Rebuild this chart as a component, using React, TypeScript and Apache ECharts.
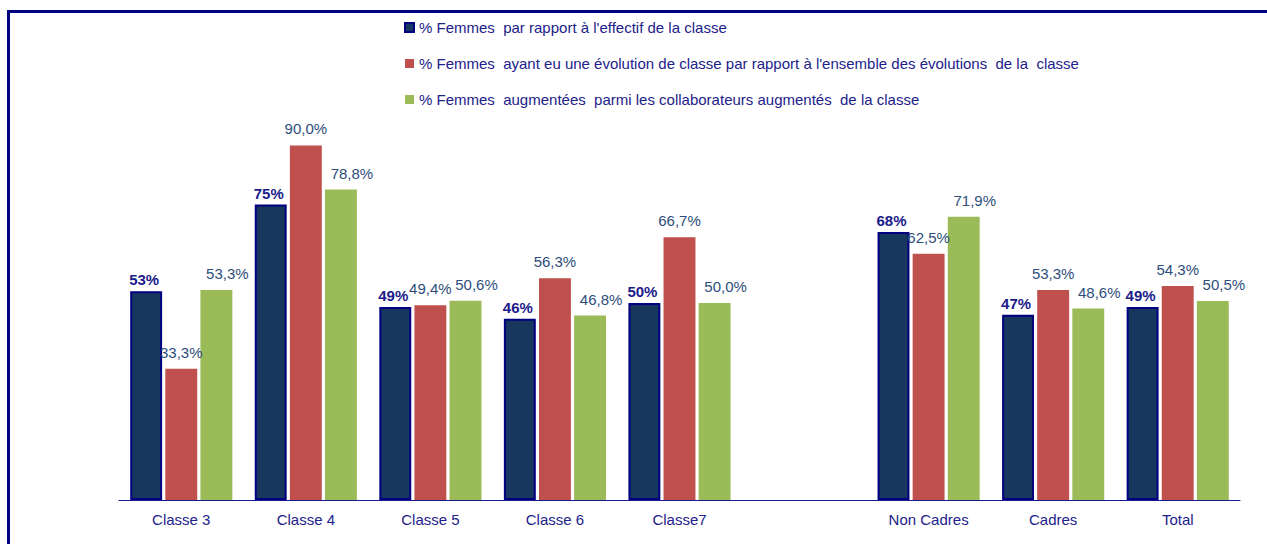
import React, { useEffect, useRef } from "react";
import * as echarts from "echarts";

const categories = ["Classe 3", "Classe 4", "Classe 5", "Classe 6", "Classe7", "", "Non Cadres", "Cadres", "Total"];
const seriesNames = [
  "% Femmes  par rapport à l'effectif de la classe",
  "% Femmes  ayant eu une évolution de classe par rapport à l'ensemble des évolutions  de la  classe",
  "% Femmes  augmentées  parmi les collaborateurs augmentés  de la classe",
];
const effectif = [53, 75, 49, 46, 50, null, 68, 47, 49];
const evolution = [33.3, 90.0, 49.4, 56.3, 66.7, null, 62.5, 53.3, 54.3];
const augmentees = [53.3, 78.8, 50.6, 46.8, 50.0, null, 71.9, 48.6, 50.5];

const FONT = "'Liberation Sans', Arial, sans-serif";

export default function App() {
  const ref = useRef<HTMLDivElement>(null);
  useEffect(() => {
    if (!ref.current) return;
    const chart = echarts.init(ref.current, null, { renderer: "svg" });
    const pct1 = (p: any) => (p.value == null ? "" : p.value.toFixed(1).replace(".", ",") + "%");
    const labelBase = {
      show: true,
      position: "top" as const,
      distance: 9,
      color: "#2E4D7B",
      fontSize: 15,
      fontFamily: FONT,
      formatter: pct1,
    };
    chart.setOption({
      animation: false,
      backgroundColor: "#ffffff",
      textStyle: { fontFamily: FONT },
      graphic: [
        {
          type: "polyline",
          shape: { points: [[8.5, 544], [8.5, 11.5], [1267, 11.5]] },
          style: { stroke: "#000080", lineWidth: 3, fill: "none" },
          silent: true,
        },
      ],
      legend: {
        orient: "vertical",
        left: 399,
        top: 15,
        itemWidth: 9,
        itemHeight: 9,
        itemGap: 21,
        icon: "rect",
        textStyle: { color: "#22228A", fontSize: 15, fontFamily: FONT },
        data: seriesNames,
      },
      grid: { left: 119, right: 27, top: 106, bottom: 44 },
      xAxis: {
        type: "category",
        data: categories,
        axisLine: { lineStyle: { color: "#1A1A8A", width: 1 } },
        axisTick: { show: false },
        axisLabel: { color: "#22228B", fontSize: 15, fontFamily: FONT, margin: 12 },
      },
      yAxis: {
        type: "value",
        min: 0,
        max: 100,
        show: false,
        splitLine: { show: false },
      },
      series: [
        {
          name: seriesNames[0],
          type: "bar",
          data: effectif,
          barCategoryGap: "18%",
          barGap: "10%",
          itemStyle: { color: "#17375E", borderColor: "#000080", borderWidth: 2 },
          label: {
            show: true,
            position: "top",
            distance: 4,
            offset: [-2, 0],
            color: "#1B1B8A",
            fontWeight: "bold",
            fontSize: 15,
            fontFamily: FONT,
            formatter: (p: any) => (p.value == null ? "" : Math.round(p.value) + "%"),
          },
        },
        {
          name: seriesNames[1],
          type: "bar",
          data: evolution,
          barCategoryGap: "18%",
          barGap: "10%",
          itemStyle: { color: "#C0504D" },
          label: labelBase,
        },
        {
          name: seriesNames[2],
          type: "bar",
          data: augmentees,
          barCategoryGap: "18%",
          barGap: "10%",
          itemStyle: { color: "#9BBB59" },
          label: { ...labelBase, offset: [11, 0] },
        },
      ],
    });
    return () => chart.dispose();
  }, []);
  return (
    <div
      ref={ref}
      style={{ position: "absolute", left: 0, top: 0, width: 1267, height: 544 }}
    />
  );
}
